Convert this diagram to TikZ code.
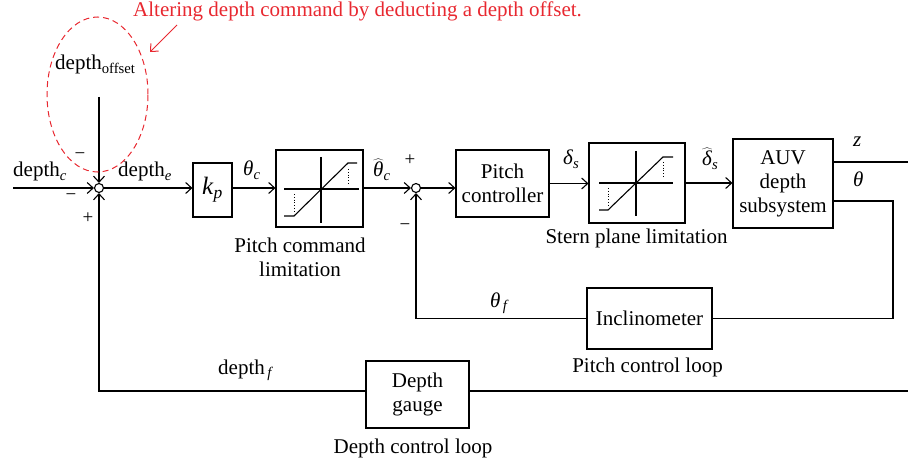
\documentclass[tikz,border=0pt]{standalone}
\usepackage{fontspec}
\setmainfont{Liberation Serif}
\usetikzlibrary{arrows.meta}
\definecolor{annot}{RGB}{232,40,48}
\newcommand{\vsub}[2]{\textit{#1}\textsubscript{\textit{#2}}}
\newcommand{\hatof}[1]{$\widehat{\mbox{\textit{#1}}}$}
\begin{document}
\begin{tikzpicture}[x=1pt,y=-1pt,
  every node/.style={font=\fontsize{21}{24}\selectfont},
  ln/.style={line width=1.1pt},
  arr/.style={ln,-{Straight Barb[length=6pt,width=11pt]}},
  blk/.style={draw,line width=1.1pt,inner sep=0pt,align=center},
  sumj/.style={draw,circle,line width=1.1pt,minimum size=9pt,inner sep=0pt},
  lbl/.style={inner sep=0pt},
  sgn/.style={inner sep=0pt,font=\fontsize{19}{19}\selectfont},
  dots/.style={line width=0.8pt,dotted},
]
\useasboundingbox (0,0) rectangle (908,465);

% summing junctions
\node[sumj] (j1) at (99,188) {};
\node[sumj] (j2) at (416,188) {};

% blocks
\node[blk,minimum width=39pt,minimum height=54pt,font=\fontsize{25}{28}\selectfont] (kp) at (212.5,190) {\vsub{k}{p}};
\node[blk,minimum width=87pt,minimum height=77pt] (pcl) at (319.5,188.5) {};
\node[blk,minimum width=93pt,minimum height=67pt] (pc) at (502.5,183.5) {Pitch\\controller};
\node[blk,minimum width=96pt,minimum height=80pt] (spl) at (637,183) {};
\node[blk,minimum width=100pt,minimum height=89pt] (auv) at (783,183.5) {AUV\\depth\\subsystem};
\node[blk,minimum width=125pt,minimum height=61pt] (inc) at (649.5,318.5) {Inclinometer};
\node[blk,minimum width=103pt,minimum height=67pt] (dg) at (417.5,394.5) {Depth\\gauge};

% limiter characteristics
\draw[ln] (284,189) -- (359,189) (321,157) -- (321,223);
\draw[ln] (284,216) -- (294,216) -- (348,163) -- (357,163);
\draw[dots] (348,169) -- (348,185) (294,194) -- (294,211);
\draw[ln] (599,183) -- (673,183) (636,151) -- (636,216);
\draw[ln] (599,210) -- (608,210) -- (663,157) -- (673,157);
\draw[dots] (663,162) -- (663,178) (608,188) -- (608,205);

% free ends
\coordinate (cin) at (13,188);
\coordinate (offin) at (99,97);
\coordinate (zend) at (908,162);
\coordinate (thc) at (893,201);
\coordinate (fb) at (99,391);
\coordinate (dgin) at (908,391);

% connectors
\draw[arr] (cin) -- (j1);
\draw[arr] (offin) -- (j1);
\draw[arr] (j1) -- (kp.west |- j1);
\draw[arr] (kp.east |- j1) -- (pcl.west |- j1);
\draw[arr] (pcl.east |- j1) -- (j2);
\draw[arr] (j2) -- (pc.west |- j2);
\draw[arr] (pc.east) -- (spl.west |- pc.east);
\draw[arr] (spl.east) -- (auv.west |- spl.east);
\draw[ln] (auv.east |- zend) -- (zend);
\draw[ln] (auv.east |- thc) -- (thc) |- (inc.east);
\draw[arr] (inc.west) -| (j2.south);
\draw[ln] (dgin) -- (dg.east |- dgin);
\draw[arr] (dg.west |- fb) -- (fb) -- (j1.south);

% signal labels
\node[lbl,anchor=base west] at (55,70) {depth\textsubscript{offset}};
\node[lbl,anchor=base west] at (13,177) {depth\textsubscript{\textit{c}}};
\node[lbl,anchor=base west] at (118,177) {depth\textsubscript{\textit{e}}};
\node[lbl,anchor=base west] at (243,176) {\vsub{θ}{c}};
\node[lbl,anchor=base west] at (373,177) {\hatof{θ}\textsubscript{\textit{c}}};
\node[lbl,anchor=base west] at (563,165) {\vsub{δ}{s}};
\node[lbl,anchor=base west] at (702,166) {\hatof{δ}\textsubscript{\textit{s}}};
\node[lbl,anchor=base west] at (853,147) {\textit{z}};
\node[lbl,anchor=base west] at (853,187) {\textit{θ}};
\node[lbl,anchor=base west] at (490,307) {\textit{θ}\textsubscript{\,\textit{f}}};
\node[lbl,anchor=base west] at (218,374) {depth\textsubscript{\,\textit{f}}};

% signs
\node[sgn] at (80,156) {−};
\node[sgn] at (71,197) {−};
\node[sgn] at (88,218) {+};
\node[sgn] at (410,160) {+};
\node[sgn] at (405,227) {−};

% captions
\node[lbl,align=center] at (300,257) {Pitch command\\limitation};
\node[lbl,anchor=base] at (636.5,244) {Stern plane limitation};
\node[lbl,anchor=base] at (647.5,372) {Pitch control loop};
\node[lbl,anchor=base] at (413,453) {Depth control loop};

% annotation
\draw[annot,line width=1pt,dash pattern=on 6pt off 4pt] (97.5,94.5) ellipse [x radius=50.5pt, y radius=77.5pt];
\coordinate (anS) at (177,25);
\coordinate (anE) at (150,52);
\draw[annot,line width=1pt,-{Straight Barb[length=6pt,width=11pt]}] (anS) -- (anE);
\node[lbl,anchor=base west,text=annot] at (133,17) {Altering depth command by deducting a depth offset.};
\end{tikzpicture}
\end{document}
